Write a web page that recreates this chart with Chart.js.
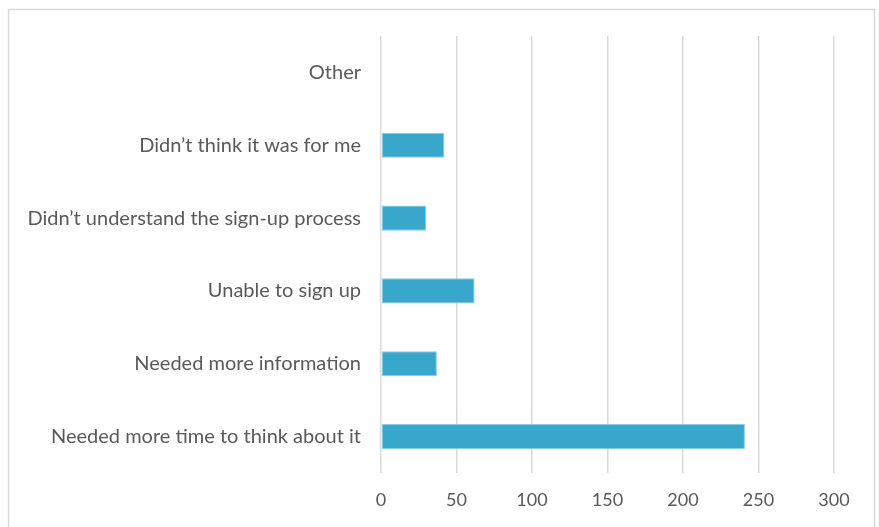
<!DOCTYPE html>
<html>
<head>
<meta charset="utf-8">
<script src="https://cdn.jsdelivr.net/npm/chart.js@4"></script>
<style>
    html, body { margin: 0; padding: 0; background: #fff; }
    #wrap { width: 879px; height: 527px; position: relative; }
</style>
</head>
<body>
<div id="wrap"><canvas id="chart" width="879" height="527"></canvas></div>
<script>
// Reasons, listed top to bottom as in the chart.
const reasons = [
    'Other',
    'Didn’t think it was for me',
    'Didn’t understand the sign-up process',
    'Unable to sign up',
    'Needed more information',
    'Needed more time to think about it'
];
const responses = [0, 42, 30, 62, 37, 241];
const xTicks    = [0, 50, 100, 150, 200, 250, 300];

const TEXT = '#595959';
const GRID = '#d9d9d9';
const FAMILY = 'Lato, "Open Sans", sans-serif';

// Light grey frame round the whole chart, like the spreadsheet one.
const frame = {
    id: 'frame',
    beforeDraw(chart) {
        const ctx = chart.ctx;
        ctx.save();
        ctx.strokeStyle = GRID;
        ctx.lineWidth = 1.5;
        ctx.strokeRect(8.5, 9.5, 866, 600);
        ctx.restore();
    }
};

new Chart(document.querySelector('#chart'), {
    type: 'bar',
    data: {
        labels: reasons,
        datasets: [{
            data: responses,
            backgroundColor: '#39a6cb',
            borderColor: '#86cbe3',
            borderWidth: 1,
            borderSkipped: false,
            categoryPercentage: 1,
            barPercentage: 0.345
        }]
    },
    options: {
        indexAxis: 'y',
        responsive: false,
        animation: false,
        layout: { padding: { top: 36, right: 45, left: 0, bottom: 0 } },
        plugins: { legend: { display: false }, tooltip: { enabled: false } },
        scales: {
            x: {
                min: xTicks[0],
                max: xTicks[xTicks.length - 1],
                afterBuildTicks: s => { s.ticks = xTicks.map(v => ({ value: v })); },
                afterFit: s => { s.height = 54; },
                grid: { color: GRID, lineWidth: 1.5, drawTicks: false },
                border: { display: false },
                ticks: { color: TEXT, font: { family: FAMILY, size: 18 }, padding: 16 }
            },
            y: {
                afterFit: s => { s.width = 381; },
                grid: { display: false, drawTicks: false },
                border: { display: false },
                ticks: { color: TEXT, font: { family: FAMILY, size: 20 }, padding: 20 }
            }
        }
    },
    plugins: [frame]
});
</script>
</body>
</html>
